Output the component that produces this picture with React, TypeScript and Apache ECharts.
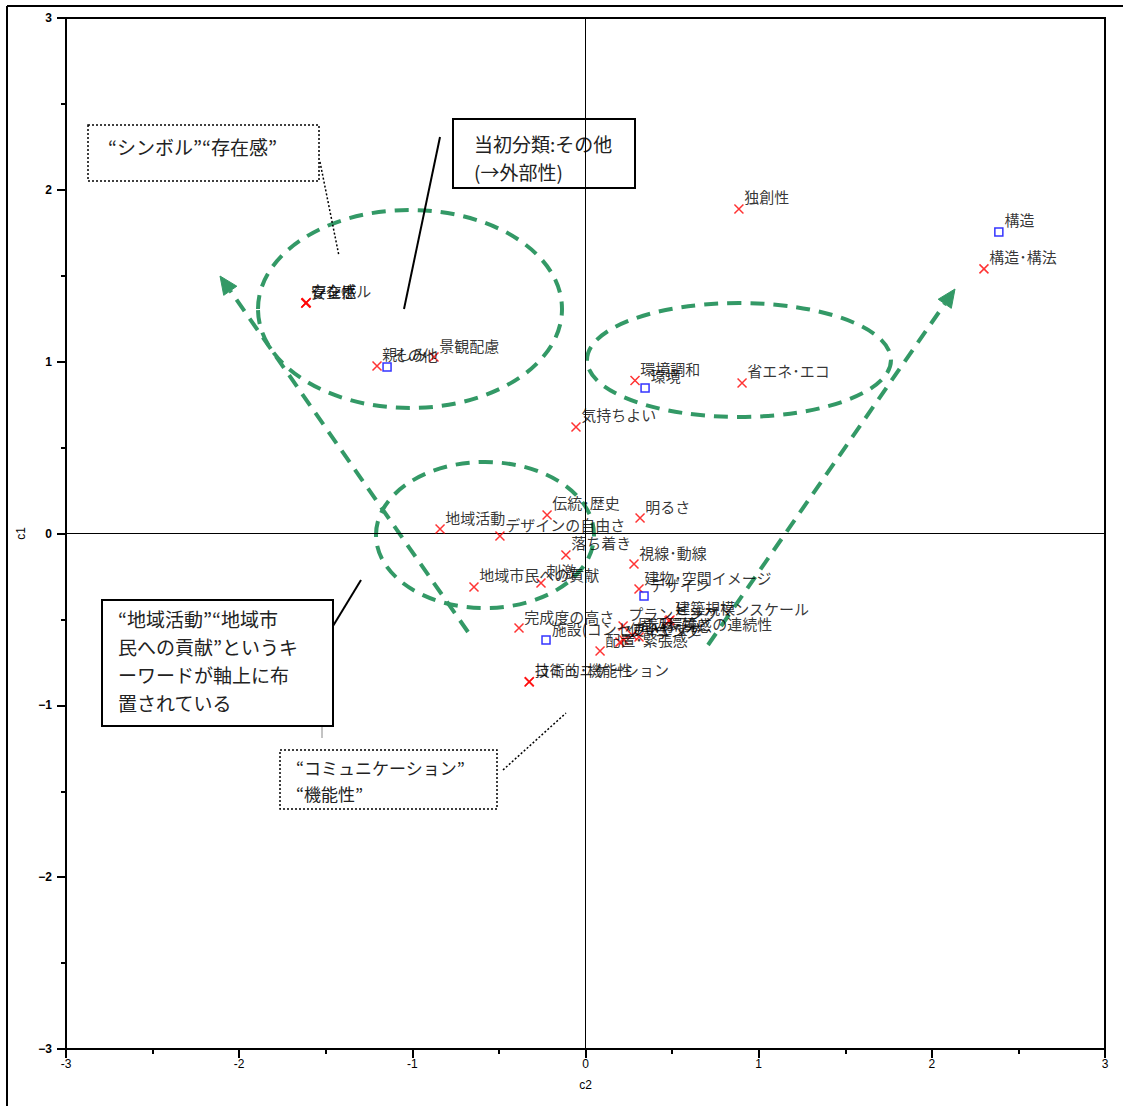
import React, { useEffect, useRef } from "react";
import * as echarts from "echarts";

// ---- data (c2 = horizontal, c1 = vertical) ----
const keywordNames = [
  "シンボル", "存在感", "安全性", "親しみ", "景観配慮", "独創性", "構造･構法",
  "環境調和", "省エネ･エコ", "気持ちよい", "伝統･歴史", "明るさ", "地域活動",
  "デザインの自由さ", "落ち着き", "視線･動線", "刺激", "地域市民への貢献",
  "建物･空間イメージ", "完成度の高さ", "プランニング", "ヒューマンスケール",
  "建築規模", "周辺環境との連続性", "素材･質感", "ゾーニング", "使いやすさ",
  "配置･緊張感", "コミュニケーション", "技術的･機能性",
];
const keywordC2 = [
  -1.614, -1.612, -1.616, -1.204, -0.875, 0.886, 2.301,
  0.286, 0.904, -0.055, -0.222, 0.315, -0.840,
  -0.494, -0.113, 0.280, -0.257, -0.644,
  0.309, -0.384, 0.217, 0.482,
  0.488, 0.269, 0.309, 0.199, 0.222,
  0.084, -0.326, -0.324,
];
const keywordC1 = [
  1.342, 1.344, 1.340, 0.975, 1.027, 1.889, 1.540,
  0.890, 0.876, 0.620, 0.108, 0.090, 0.026,
  -0.015, -0.125, -0.178, -0.288, -0.311,
  -0.323, -0.550, -0.538, -0.509,
  -0.503, -0.591, -0.602, -0.632, -0.620,
  -0.684, -0.864, -0.862,
];
const categoryNames = ["その他", "環境", "構造", "デザイン", "施設(コンセプト)"];
const categoryC2 = [-1.146, 0.344, 2.387, 0.338, -0.228];
const categoryC1 = [0.969, 0.847, 1.755, -0.364, -0.620];
const axisMin = -3;
const axisMax = 3;
const axisStep = 1;

const LABEL_FONT = '"Noto Sans CJK JP", "Noto Sans", sans-serif';
const NOTE_FONT = '"Noto Sans CJK JP", serif';
const GREEN = "#339966";

function arrow(x1: number, y1: number, x2: number, y2: number) {
  const dx = x2 - x1;
  const dy = y2 - y1;
  const len = Math.sqrt(dx * dx + dy * dy);
  const ux = dx / len;
  const uy = dy / len;
  const head = 18;
  const half = 8;
  const bx = x2 - ux * head;
  const by = y2 - uy * head;
  const px = -uy;
  const py = ux;
  return [
    {
      type: "line",
      shape: { x1, y1, x2: bx, y2: by },
      style: { stroke: GREEN, lineWidth: 4, lineDash: [14, 9] },
      silent: true,
    },
    {
      type: "polygon",
      shape: {
        points: [
          [x2, y2],
          [bx + px * half, by + py * half],
          [bx - px * half, by - py * half],
        ],
      },
      style: { fill: GREEN, stroke: GREEN, lineWidth: 1 },
      silent: true,
    },
  ];
}

function ellipse(cx: number, cy: number, rx: number, ry: number) {
  return {
    type: "ellipse",
    shape: { cx, cy, rx, ry },
    style: { fill: "none", stroke: GREEN, lineWidth: 4, lineDash: [14, 9] },
    silent: true,
  };
}

function box(x: number, y: number, w: number, h: number, dotted: boolean, lw: number) {
  return {
    type: "rect",
    shape: { x, y, width: w, height: h },
    style: {
      fill: "#fff",
      stroke: "#000",
      lineWidth: lw,
      lineDash: dotted ? [2, 2] : null,
    },
    silent: true,
  };
}

function note(x: number, y: number, text: string, size: number, lh: number) {
  return {
    type: "text",
    x,
    y,
    style: {
      text,
      font: `${size}px ${NOTE_FONT}`,
      fill: "#222",
      lineHeight: lh,
      verticalAlign: "top",
      align: "left",
    },
    silent: true,
  };
}

function seg(x1: number, y1: number, x2: number, y2: number, dotted: boolean, lw: number, color = "#000") {
  return {
    type: "line",
    shape: { x1, y1, x2, y2 },
    style: { stroke: color, lineWidth: lw, lineDash: dotted ? [2, 2] : null },
    silent: true,
  };
}

export default function App() {
  const ref = useRef<HTMLDivElement>(null);

  useEffect(() => {
    if (!ref.current) return;
    const chart = echarts.init(ref.current, null, { renderer: "svg" });

    const kwData = keywordNames.map((n, i) => ({ name: n, value: [keywordC2[i], keywordC1[i]] }));
    const catData = categoryNames.map((n, i) => ({ name: n, value: [categoryC2[i], categoryC1[i]] }));

    const axisCommon = {
      type: "value",
      min: axisMin,
      max: axisMax,
      interval: axisStep,
      axisLine: { show: true, onZero: false, lineStyle: { color: "#000", width: 2 } },
      axisTick: { show: true, length: 9, lineStyle: { color: "#000", width: 2 } },
      minorTick: { show: true, splitNumber: 2, length: 5, lineStyle: { color: "#000", width: 2 } },
      splitLine: { show: false },
      nameLocation: "middle",
      nameTextStyle: { color: "#000", fontSize: 12, fontFamily: "Liberation Sans" },
    };

    const graphic: any[] = [
      // outer frame (left & top)
      seg(7, 6, 1123, 6, false, 2),
      seg(7, 6, 7, 1106, false, 2),
      // dashed ellipses
      ellipse(410, 309, 152, 99),
      ellipse(739, 360, 152, 57),
      ellipse(485, 535, 109, 73),
      // dashed arrows
      ...arrow(468, 632, 220, 276),
      ...arrow(708, 645, 955, 289),
      // connectors
      seg(440, 137, 404, 309, false, 2),
      seg(320, 162, 339, 256, true, 1.5),
      seg(333, 626, 361, 580, false, 2),
      seg(322, 726, 322, 738, false, 1, "#888"),
      seg(503, 770, 566, 713, true, 1.5),
      // boxes
      box(88, 125, 231, 56, true, 1.5),
      note(108, 133, "“シンボル”“存在感”", 19, 26),
      box(453, 119, 182, 69, false, 2),
      note(474, 129, "当初分類:その他\n(→外部性)", 19, 28),
      box(102, 600, 231, 126, false, 2),
      note(118, 604, "“地域活動”“地域市\n民への貢献”というキ\nーワードが軸上に布\n置されている", 19, 28),
      box(280, 750, 217, 59, true, 1.5),
      note(296, 754, "“コミュニケーション”\n“機能性”", 17, 26),
    ];

    chart.setOption({
      animation: false,
      backgroundColor: "#fff",
      grid: {
        left: 66,
        top: 18,
        right: 18,
        bottom: 57,
        show: true,
        borderColor: "#000",
        borderWidth: 2,
        backgroundColor: "transparent",
      },
      xAxis: {
        ...axisCommon,
        name: "c2",
        nameGap: 30,
        axisLabel: { color: "#000", fontSize: 12, margin: 9, fontFamily: "Liberation Sans" },
      },
      yAxis: {
        ...axisCommon,
        name: "c1",
        nameGap: 34,
        axisLabel: {
          color: "#000",
          fontSize: 12,
          margin: 14,
          fontWeight: "bold",
          fontFamily: "Liberation Sans",
          formatter: (v: number) => String(v).replace("-", "−"),
        },
      },
      series: [
        {
          type: "scatter",
          name: "keywords",
          data: kwData,
          symbol: "path://M0 0L10 10M10 0L0 10",
          symbolSize: 9,
          itemStyle: { color: "#ff0000", borderColor: "#ff0000", borderWidth: 1.5 },
          label: {
            show: true,
            formatter: "{b}",
            position: "right",
            offset: [-5, -12],
            color: "#000",
            fontSize: 15,
            fontFamily: LABEL_FONT,
          },
          z: 5,
          markLine: {
            silent: true,
            symbol: ["none", "none"],
            label: { show: false },
            lineStyle: { color: "#000", width: 1, type: "solid" },
            data: [{ xAxis: 0 }, { yAxis: 0 }],
            z: 1,
          },
        },
        {
          type: "scatter",
          name: "categories",
          data: catData,
          symbol: "rect",
          symbolSize: 8,
          itemStyle: { color: "#fff", borderColor: "#0000ff", borderWidth: 1.5 },
          label: {
            show: true,
            formatter: "{b}",
            position: "right",
            offset: [-4, -12],
            color: "#000",
            fontSize: 15,
            fontFamily: LABEL_FONT,
          },
          z: 6,
        },
      ],
      graphic,
    });

    return () => chart.dispose();
  }, []);

  return (
    <div
      ref={ref}
      style={{ position: "absolute", left: 0, top: 0, width: 1123, height: 1106 }}
    />
  );
}
